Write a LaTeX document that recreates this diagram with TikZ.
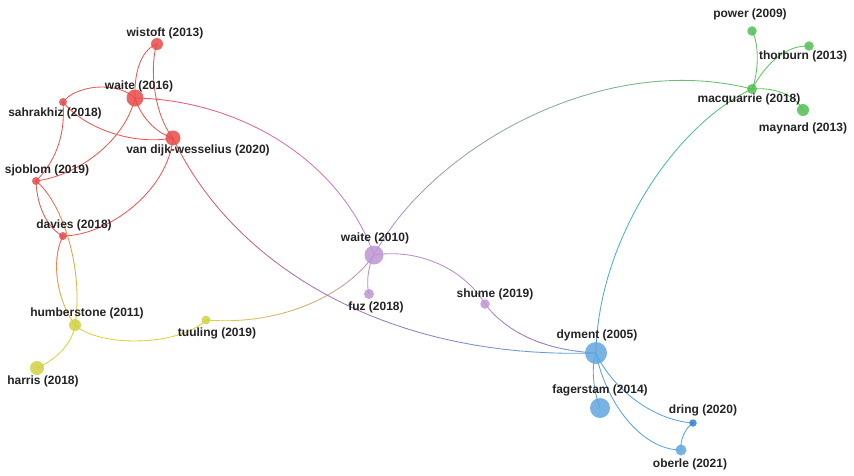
\documentclass[tikz,border=0pt]{standalone}
\usepackage{fontspec}
\setmainfont{Liberation Sans}
\usetikzlibrary{calc}
\pgfdeclarelayer{edges}
\pgfsetlayers{edges,main}
\definecolor{RedC}{RGB}{236,86,84}
\definecolor{RedN}{RGB}{232,74,74}
\definecolor{YelC}{RGB}{214,212,60}
\definecolor{YelN}{RGB}{208,210,66}
\definecolor{PurC}{RGB}{186,140,206}
\definecolor{PurN}{RGB}{188,150,212}
\definecolor{BluC}{RGB}{92,162,222}
\definecolor{BluN}{RGB}{96,166,222}
\definecolor{BluD}{RGB}{50,130,205}
\definecolor{GrnC}{RGB}{96,196,96}
\definecolor{GrnN}{RGB}{82,190,82}
\definecolor{MagC}{RGB}{222,110,180}
\definecolor{MauC}{RGB}{170,112,180}
\definecolor{TanC}{RGB}{214,172,120}
\definecolor{GryC}{RGB}{140,168,170}
\definecolor{TeaC}{RGB}{70,186,190}
\definecolor{OrgC}{RGB}{238,150,70}
\definecolor{LabelC}{RGB}{35,35,35}
\tikzset{
  edge/.style={line width=0.85pt, line cap=round},
  bub/.style={circle, inner sep=0pt, minimum size=#1, fill opacity=0.85, draw=none},
  lbl/.style={text=LabelC, font=\bfseries\fontsize{12}{14}\selectfont, inner sep=0pt},
}
% gradient cubic edge: start node, control 1, control 2, end node, colour start, colour mid, colour end
\newcommand\gradedge[7]{%
  \foreach \k in {1,...,40}{%
    \pgfmathsetmacro\ta{(\k-1)/40}%
    \pgfmathsetmacro\tb{\k/40}%
    \ifnum\k>20
      \pgfmathtruncatemacro\mixa{100-100*(\k-20.5)/20}%
      \def\cA{#6}\def\cB{#7}%
    \else
      \pgfmathtruncatemacro\mixa{100-100*(\k-0.5)/20}%
      \def\cA{#5}\def\cB{#6}%
    \fi
    \draw[edge,color=\cA!\mixa!\cB]
      ($ {(1-\ta)^3}*(#1) + {3*(1-\ta)^2*\ta}*(#2) + {3*(1-\ta)*\ta^2}*(#3) + {\ta^3}*(#4) $) --
      ($ {(1-\tb)^3}*(#1) + {3*(1-\tb)^2*\tb}*(#2) + {3*(1-\tb)*\tb^2}*(#3) + {\tb^3}*(#4) $);
  }%
}
\begin{document}
\begin{tikzpicture}[x=1pt,y=-1pt]
\useasboundingbox (0,0) rectangle (854,475);
% nodes
\node[bub=12pt, fill=RedN] (wst) at (157,44) {};
\node[bub=17pt, fill=RedN] (w16) at (135,98) {};
\node[bub=8pt,  fill=RedN] (sah) at (63,102) {};
\node[bub=15pt, fill=RedN] (vdw) at (173,138) {};
\node[bub=8pt,  fill=RedN] (sjo) at (36,181) {};
\node[bub=8pt,  fill=RedN] (dav) at (63,236) {};
\node[bub=12pt, fill=YelN] (hum) at (75,325) {};
\node[bub=14pt, fill=YelN] (har) at (37,368) {};
\node[bub=9pt,  fill=YelN] (tuu) at (206,320) {};
\node[bub=19pt, fill=PurN] (w10) at (374,255) {};
\node[bub=10pt, fill=PurN] (fuz) at (369,294) {};
\node[bub=9.5pt,fill=PurN] (shu) at (485,304) {};
\node[bub=22pt, fill=BluN] (dym) at (596,353) {};
\node[bub=20pt, fill=BluN] (fag) at (600,408) {};
\node[bub=7.5pt,fill=BluD] (dri) at (693,423) {};
\node[bub=11pt, fill=BluN] (obe) at (681,450) {};
\node[bub=9.5pt,fill=GrnN] (pow) at (752,31) {};
\node[bub=9.5pt,fill=GrnN] (tho) at (809,46) {};
\node[bub=10pt, fill=GrnN] (mac) at (752,89) {};
\node[bub=12pt, fill=GrnN] (may) at (803,110) {};
% labels
\node[lbl] (wst-l) at (165,33) {wistoft (2013)};
\node[lbl] (w16-l) at (139,86) {waite (2016)};
\node[lbl] (sah-l) at (55,113) {sahrakhiz (2018)};
\node[lbl] (vdw-l) at (198,150) {van dijk-wesselius (2020)};
\node[lbl] (sjo-l) at (47,170) {sjoblom (2019)};
\node[lbl] (dav-l) at (74,225) {davies (2018)};
\node[lbl] (hum-l) at (87,313) {humberstone (2011)};
\node[lbl] (har-l) at (43,381) {harris (2018)};
\node[lbl] (tuu-l) at (217,333) {tuuling (2019)};
\node[lbl] (w10-l) at (375,238) {waite (2010)};
\node[lbl] (fuz-l) at (376,307) {fuz (2018)};
\node[lbl] (shu-l) at (495,294) {shume (2019)};
\node[lbl] (dym-l) at (597,335) {dyment (2005)};
\node[lbl] (fag-l) at (600,390) {fagerstam (2014)};
\node[lbl] (dri-l) at (703,410) {dring (2020)};
\node[lbl] (obe-l) at (690,464) {oberle (2021)};
\node[lbl] (pow-l) at (750,14) {power (2009)};
\node[lbl] (tho-l) at (803,56) {thorburn (2013)};
\node[lbl] (mac-l) at (749,99) {macquarrie (2018)};
\node[lbl] (may-l) at (803,128) {maynard (2013)};
% edges
\begin{pgfonlayer}{edges}
\draw[edge,RedC] (wst.center) .. controls (140,50) and (134,75) .. (w16.center);
\draw[edge,RedC] (wst.center) .. controls (150,62) and (152,112) .. (vdw.center);
\draw[edge,RedC] (sah.center) .. controls (75,86) and (115,80) .. (w16.center);
\draw[edge,RedC] (sah.center) .. controls (82,126) and (130,146) .. (vdw.center);
\draw[edge,RedC] (w16.center) .. controls (140,115) and (155,133) .. (vdw.center);
\draw[edge,RedC] (sah.center) .. controls (66,140) and (52,165) .. (sjo.center);
\draw[edge,RedC] (w16.center) .. controls (125,140) and (80,175) .. (sjo.center);
\draw[edge,RedC] (sjo.center) .. controls (37,210) and (50,230) .. (dav.center);
\draw[edge,RedC] (vdw.center) .. controls (168,190) and (110,235) .. (dav.center);
\gradedge{sjo}{62,202}{84,268}{hum}{RedC}{OrgC}{YelC}
\gradedge{dav}{50,262}{58,302}{hum}{RedC}{OrgC}{YelC}
\draw[edge,YelC] (hum.center) .. controls (72,345) and (55,360) .. (har.center);
\draw[edge,YelC] (hum.center) .. controls (100,348) and (180,346) .. (tuu.center);
\gradedge{tuu}{280,326}{345,296}{w10}{YelC}{TanC}{PurC}
\gradedge{w16}{240,100}{340,160}{w10}{RedC}{MagC}{PurC}
\gradedge{vdw}{230,260}{380,360}{dym}{RedC}{MauC}{BluC}
\draw[edge,PurC] (w10.center) .. controls (368,265) and (366,285) .. (fuz.center);
\draw[edge,PurC] (w10.center) .. controls (420,248) and (465,270) .. (shu.center);
\gradedge{shu}{505,330}{540,350}{dym}{PurC}{MauC}{BluC}
\gradedge{w10}{430,150}{600,50}{mac}{PurC}{GryC}{GrnC}
\gradedge{dym}{598,240}{675,125}{mac}{BluC}{TeaC}{GrnC}
\draw[edge,BluC] (dym.center) .. controls (590,370) and (595,395) .. (fag.center);
\draw[edge,BluC] (dym.center) .. controls (610,385) and (650,420) .. (dri.center);
\draw[edge,BluC] (dym.center) .. controls (605,400) and (640,450) .. (obe.center);
\draw[edge,BluC] (dri.center) .. controls (685,428) and (680,440) .. (obe.center);
\draw[edge,GrnC] (mac.center) .. controls (758,75) and (760,45) .. (pow.center);
\draw[edge,GrnC] (mac.center) .. controls (765,65) and (785,45) .. (tho.center);
\draw[edge,GrnC] (mac.center) .. controls (775,87) and (795,95) .. (may.center);
\end{pgfonlayer}
\end{tikzpicture}
\end{document}
